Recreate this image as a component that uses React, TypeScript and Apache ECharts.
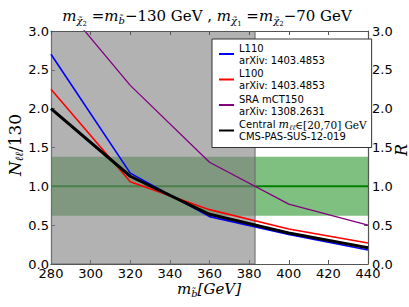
import React, { useEffect, useRef } from "react";
import * as echarts from "echarts";

const xValues = [280, 320, 360, 400, 440];
const l110 = [2.7, 1.17, 0.61, 0.38, 0.18];
const l100 = [2.25, 1.06, 0.7, 0.45, 0.27];
const sra = [3.52, 2.3, 1.31, 0.77, 0.5];
const central = [2.0, 1.13, 0.64, 0.4, 0.21];

const greenBand = [280, 440, 0.62, 1.38];
const greenLineY = 1.0;
const grayRegion = [280, 383, 0, 3];

const xTicks = { min: 280, max: 440, interval: 20 };
const yTicks = { min: 0, max: 3, interval: 0.5 };

const legendLabels: Record<string, string> = {
  L110: "L110\narXiv: 1403.4853",
  L100: "L100\narXiv: 1403.4853",
  "SRA mCT150": "SRA mCT150\narXiv: 1308.2631",
  Central: "Central {m|m}{s|ℓℓ}{e|∈[20,70]} {g|GeV}\nCMS-PAS-SUS-12-019",
};

const pairs = (ys: number[]) => xValues.map((x, i) => [x, ys[i]]);

export default function App() {
  const ref = useRef<HTMLDivElement>(null);
  useEffect(() => {
    if (!ref.current) return;
    const chart = echarts.init(ref.current, null, { renderer: "svg" });
    const rectItem = (fill: string, stroke: string | null) => (params: any, api: any) => {
      const p0 = api.coord([api.value(0), api.value(3)]);
      const p1 = api.coord([api.value(1), api.value(2)]);
      return {
        type: "rect",
        shape: { x: p0[0], y: p0[1], width: p1[0] - p0[0], height: p1[1] - p0[1] },
        style: { fill, stroke: stroke || undefined, lineWidth: stroke ? 1.5 : 0 },
      };
    };
    const serif = "'DejaVu Serif', serif";
    const axisCommon = {
      axisLine: { show: true, onZero: false, lineStyle: { color: "#555", width: 1.2 } },
      axisTick: { show: true, inside: true, length: 4, lineStyle: { color: "#555" } },
      splitLine: { show: false },
    };
    const label = { color: "#000", fontFamily: "'DejaVu Sans'", fontSize: 13 };
    chart.setOption({
      animation: false,
      grid: { left: 51, right: 41, top: 31, bottom: 43 },
      xAxis: [
        {
          type: "value",
          ...xTicks,
          position: "bottom",
          ...axisCommon,
          axisLabel: { ...label, margin: 3 },
        },
        {
          type: "value",
          ...xTicks,
          position: "top",
          ...axisCommon,
          z: 10,
          axisLabel: { show: false },
        },
      ],
      yAxis: [
        {
          type: "value",
          ...yTicks,
          position: "left",
          ...axisCommon,
          axisLabel: { ...label, margin: 2, formatter: (v: number) => v.toFixed(1) },
        },
        {
          type: "value",
          ...yTicks,
          position: "right",
          ...axisCommon,
          axisLabel: { ...label, margin: 4, formatter: (v: number) => v.toFixed(1) },
        },
      ],
      legend: {
        data: ["L110", "L100", "SRA mCT150", "Central"],
        orient: "vertical",
        left: 212,
        top: 39,
        itemWidth: 15,
        itemHeight: 10,
        itemGap: 1.5,
        padding: [3, 5, 5, 6],
        backgroundColor: "#fff",
        borderColor: "#333",
        borderWidth: 1,
        borderRadius: 0,
        itemStyle: { opacity: 0 },
        formatter: (name: string) => legendLabels[name],
        textStyle: {
          fontFamily: "'DejaVu Sans'",
          fontSize: 10,
          lineHeight: 12,
          color: "#000",
          rich: {
            m: { fontFamily: serif, fontStyle: "italic", fontSize: 11, color: "#000" },
            s: { fontFamily: serif, fontStyle: "italic", fontSize: 7.5, padding: [5, 0, 0, 0], color: "#000" },
            e: { fontFamily: serif, fontSize: 10.5, color: "#000" },
            g: { fontFamily: serif, fontSize: 10.5, color: "#000" },
          },
        },
      },
      series: [
        {
          type: "custom",
          name: "band",
          z: 1,
          silent: true,
          clip: true,
          renderItem: rectItem("rgba(0,128,0,0.5)", null),
          encode: { x: [0, 1], y: [2, 3] },
          data: [greenBand],
        },
        {
          type: "line",
          name: "one",
          z: 2,
          silent: true,
          symbol: "none",
          lineStyle: { color: "#008000", width: 2 },
          data: [
            [xTicks.min, greenLineY],
            [xTicks.max, greenLineY],
          ],
        },
        {
          type: "custom",
          name: "excluded",
          z: 3,
          silent: true,
          clip: true,
          renderItem: rectItem("rgba(127,127,127,0.6)", "rgba(110,110,110,0.7)"),
          encode: { x: [0, 1], y: [2, 3] },
          data: [grayRegion],
        },
        {
          type: "line",
          name: "L110",
          z: 4,
          symbol: "none",
          clip: true,
          color: "#0000ff",
          lineStyle: { color: "#0000ff", width: 1.6 },
          data: pairs(l110),
        },
        {
          type: "line",
          name: "L100",
          z: 4,
          symbol: "none",
          clip: true,
          color: "#ff0000",
          lineStyle: { color: "#ff0000", width: 1.6 },
          data: pairs(l100),
        },
        {
          type: "line",
          name: "SRA mCT150",
          z: 4,
          symbol: "none",
          clip: true,
          color: "#800080",
          lineStyle: { color: "#800080", width: 1.3 },
          data: pairs(sra),
        },
        {
          type: "line",
          name: "Central",
          z: 5,
          symbol: "none",
          clip: true,
          color: "#000000",
          lineStyle: { color: "#000000", width: 3 },
          data: pairs(central),
        },
      ],
      graphic: [
        {
          type: "text",
          x: 207,
          y: 16,
          style: {
            text: "{m|m}{s|χ̃}{ss|2}{t| =}{m|m}{s|b̃}{t|−130 GeV , }{m|m}{s|χ̃}{ss|1}{t| =}{m|m}{s|χ̃}{ss|2}{t|−70 GeV}",
            align: "center",
            verticalAlign: "middle",
            rich: {
              m: { fontFamily: serif, fontStyle: "italic", fontSize: 15, fill: "#000" },
              s: { fontFamily: serif, fontStyle: "italic", fontSize: 10, padding: [9, 0, 0, 0], fill: "#000" },
              ss: { fontFamily: serif, fontSize: 7, padding: [15, 0, 0, 0], fill: "#000" },
              t: { fontFamily: serif, fontSize: 15, fill: "#000" },
            },
          },
        },
        {
          type: "text",
          x: 15,
          y: 145,
          rotation: Math.PI / 2,
          style: {
            text: "{i|N}{s|ℓℓ}{t|/130}",
            align: "center",
            verticalAlign: "middle",
            rich: {
              i: { fontFamily: serif, fontStyle: "italic", fontSize: 17, fill: "#000" },
              s: { fontFamily: serif, fontStyle: "italic", fontSize: 11, padding: [9, 0, 0, 0], fill: "#000" },
              t: { fontFamily: serif, fontSize: 17, fill: "#000" },
            },
          },
        },
        {
          type: "text",
          x: 401,
          y: 150,
          rotation: Math.PI / 2,
          style: {
            text: "R",
            align: "center",
            verticalAlign: "middle",
            font: "italic 16px 'DejaVu Serif'",
            fill: "#000",
          },
        },
        {
          type: "text",
          x: 209,
          y: 289,
          style: {
            text: "{i|m}{s|b̃}{i|[GeV]}",
            align: "center",
            verticalAlign: "middle",
            rich: {
              i: { fontFamily: serif, fontStyle: "italic", fontSize: 15, fill: "#000" },
              s: { fontFamily: serif, fontStyle: "italic", fontSize: 10, padding: [9, 0, 0, 0], fill: "#000" },
            },
          },
        },
      ],
    });
    return () => chart.dispose();
  }, []);
  return <div ref={ref} style={{ width: 409, height: 307, position: "absolute", left: 0, top: 0 }} />;
}
